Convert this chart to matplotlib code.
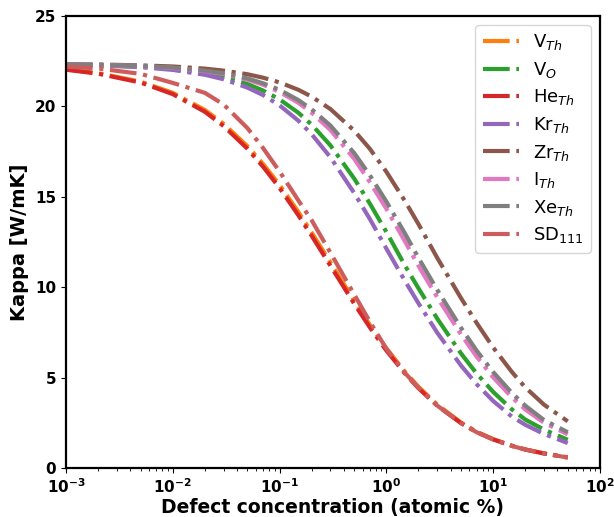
import matplotlib
matplotlib.use("Agg")
import matplotlib.pyplot as plt

# defect concentration (atomic %)
conc = [0.001, 0.002, 0.005, 0.01, 0.02, 0.03, 0.05, 0.07, 0.1, 0.15, 0.2,
        0.3, 0.5, 0.7, 1, 1.5, 2, 3, 5, 7, 10, 15, 20, 30, 50]

# thermal conductivity [W/mK]
k_v_th = [22.05, 21.84, 21.37, 20.75, 19.80, 19.03, 17.80, 16.82, 15.66, 14.16,
          13.02, 11.36, 9.25, 7.92, 6.62, 5.31, 4.49, 3.50, 2.52, 2.01, 1.60,
          1.24, 1.03, 0.81, 0.59]
k_v_o = [22.31, 22.28, 22.20, 22.07, 21.84, 21.63, 21.24, 20.88, 20.39, 19.65,
         18.99, 17.84, 16.01, 14.63, 13.06, 11.18, 9.94, 8.26, 6.34, 5.23, 4.21,
         3.24, 2.68, 2.12, 1.56]
k_he_th = [22.03, 21.81, 21.32, 20.68, 19.70, 18.91, 17.66, 16.67, 15.49, 13.98,
           12.84, 11.18, 9.09, 7.78, 6.50, 5.21, 4.41, 3.44, 2.48, 1.98, 1.58,
           1.22, 1.02, 0.80, 0.58]
k_kr_th = [22.31, 22.27, 22.17, 22.02, 21.75, 21.50, 21.04, 20.63, 20.06, 19.21,
           18.46, 17.18, 15.21, 13.78, 12.14, 10.33, 9.11, 7.48, 5.67, 4.64,
           3.71, 2.84, 2.39, 1.88, 1.38]
k_zr_th = [22.33, 22.32, 22.27, 22.21, 22.09, 21.98, 21.78, 21.59, 21.33, 20.92,
           20.54, 19.85, 18.66, 17.66, 16.39, 14.75, 13.49, 11.62, 9.40, 8.03,
           6.67, 5.31, 4.46, 3.50, 2.58]
k_i_th = [22.32, 22.30, 22.23, 22.13, 21.95, 21.79, 21.48, 21.20, 20.80, 20.20,
          19.65, 18.69, 17.10, 15.82, 14.34, 12.52, 11.18, 9.44, 7.39, 6.17,
          5.02, 3.91, 3.24, 2.50, 1.86]
k_xe_th = [22.32, 22.30, 22.24, 22.15, 21.98, 21.83, 21.55, 21.28, 20.92, 20.35,
           19.84, 18.94, 17.42, 16.20, 14.74, 12.96, 11.62, 9.85, 7.76, 6.50,
           5.31, 4.15, 3.45, 2.65, 1.98]
k_sd111 = [22.20, 22.10, 21.80, 21.30, 20.75, 20.10, 18.80, 17.70, 16.40, 14.80,
           13.70, 11.90, 9.60, 8.10, 6.60, 5.25, 4.43, 3.45, 2.48, 1.98, 1.58,
           1.22, 1.02, 0.80, 0.58]

SERIES = [
    (k_v_th, "V$_{Th}$", "C1"),
    (k_v_o, "V$_{O}$", "C2"),
    (k_he_th, "He$_{Th}$", "C3"),
    (k_kr_th, "Kr$_{Th}$", "C4"),
    (k_zr_th, "Zr$_{Th}$", "C5"),
    (k_i_th, "I$_{Th}$", "C6"),
    (k_xe_th, "Xe$_{Th}$", "C7"),
    (k_sd111, "SD$_{111}$", "indianred"),
]

fig = plt.figure(figsize=(6.14, 5.17), dpi=100)
ax = fig.add_axes([0.1075, 0.0948, 0.8695, 0.8742])

for kappa, label, colour in SERIES:
    ax.plot(conc, kappa, "-.", color=colour, lw=3, label=label)

ax.set_xscale("log")
ax.set_xlim(1e-3, 1e2)
ax.set_ylim(0, 25)
ax.set_xlabel("Defect concentration (atomic %)", fontsize=13.5,
              fontweight="bold", labelpad=1)
ax.set_ylabel("Kappa [W/mK]", fontsize=14, fontweight="bold")
for lab in ax.get_xticklabels() + ax.get_yticklabels():
    lab.set_fontweight("bold")
ax.tick_params(labelsize=11)
for sp in ax.spines.values():
    sp.set_linewidth(1.6)

ax.legend(loc="upper right", fontsize=13, labelspacing=0.42)

fig.savefig("out.png", dpi=100)
